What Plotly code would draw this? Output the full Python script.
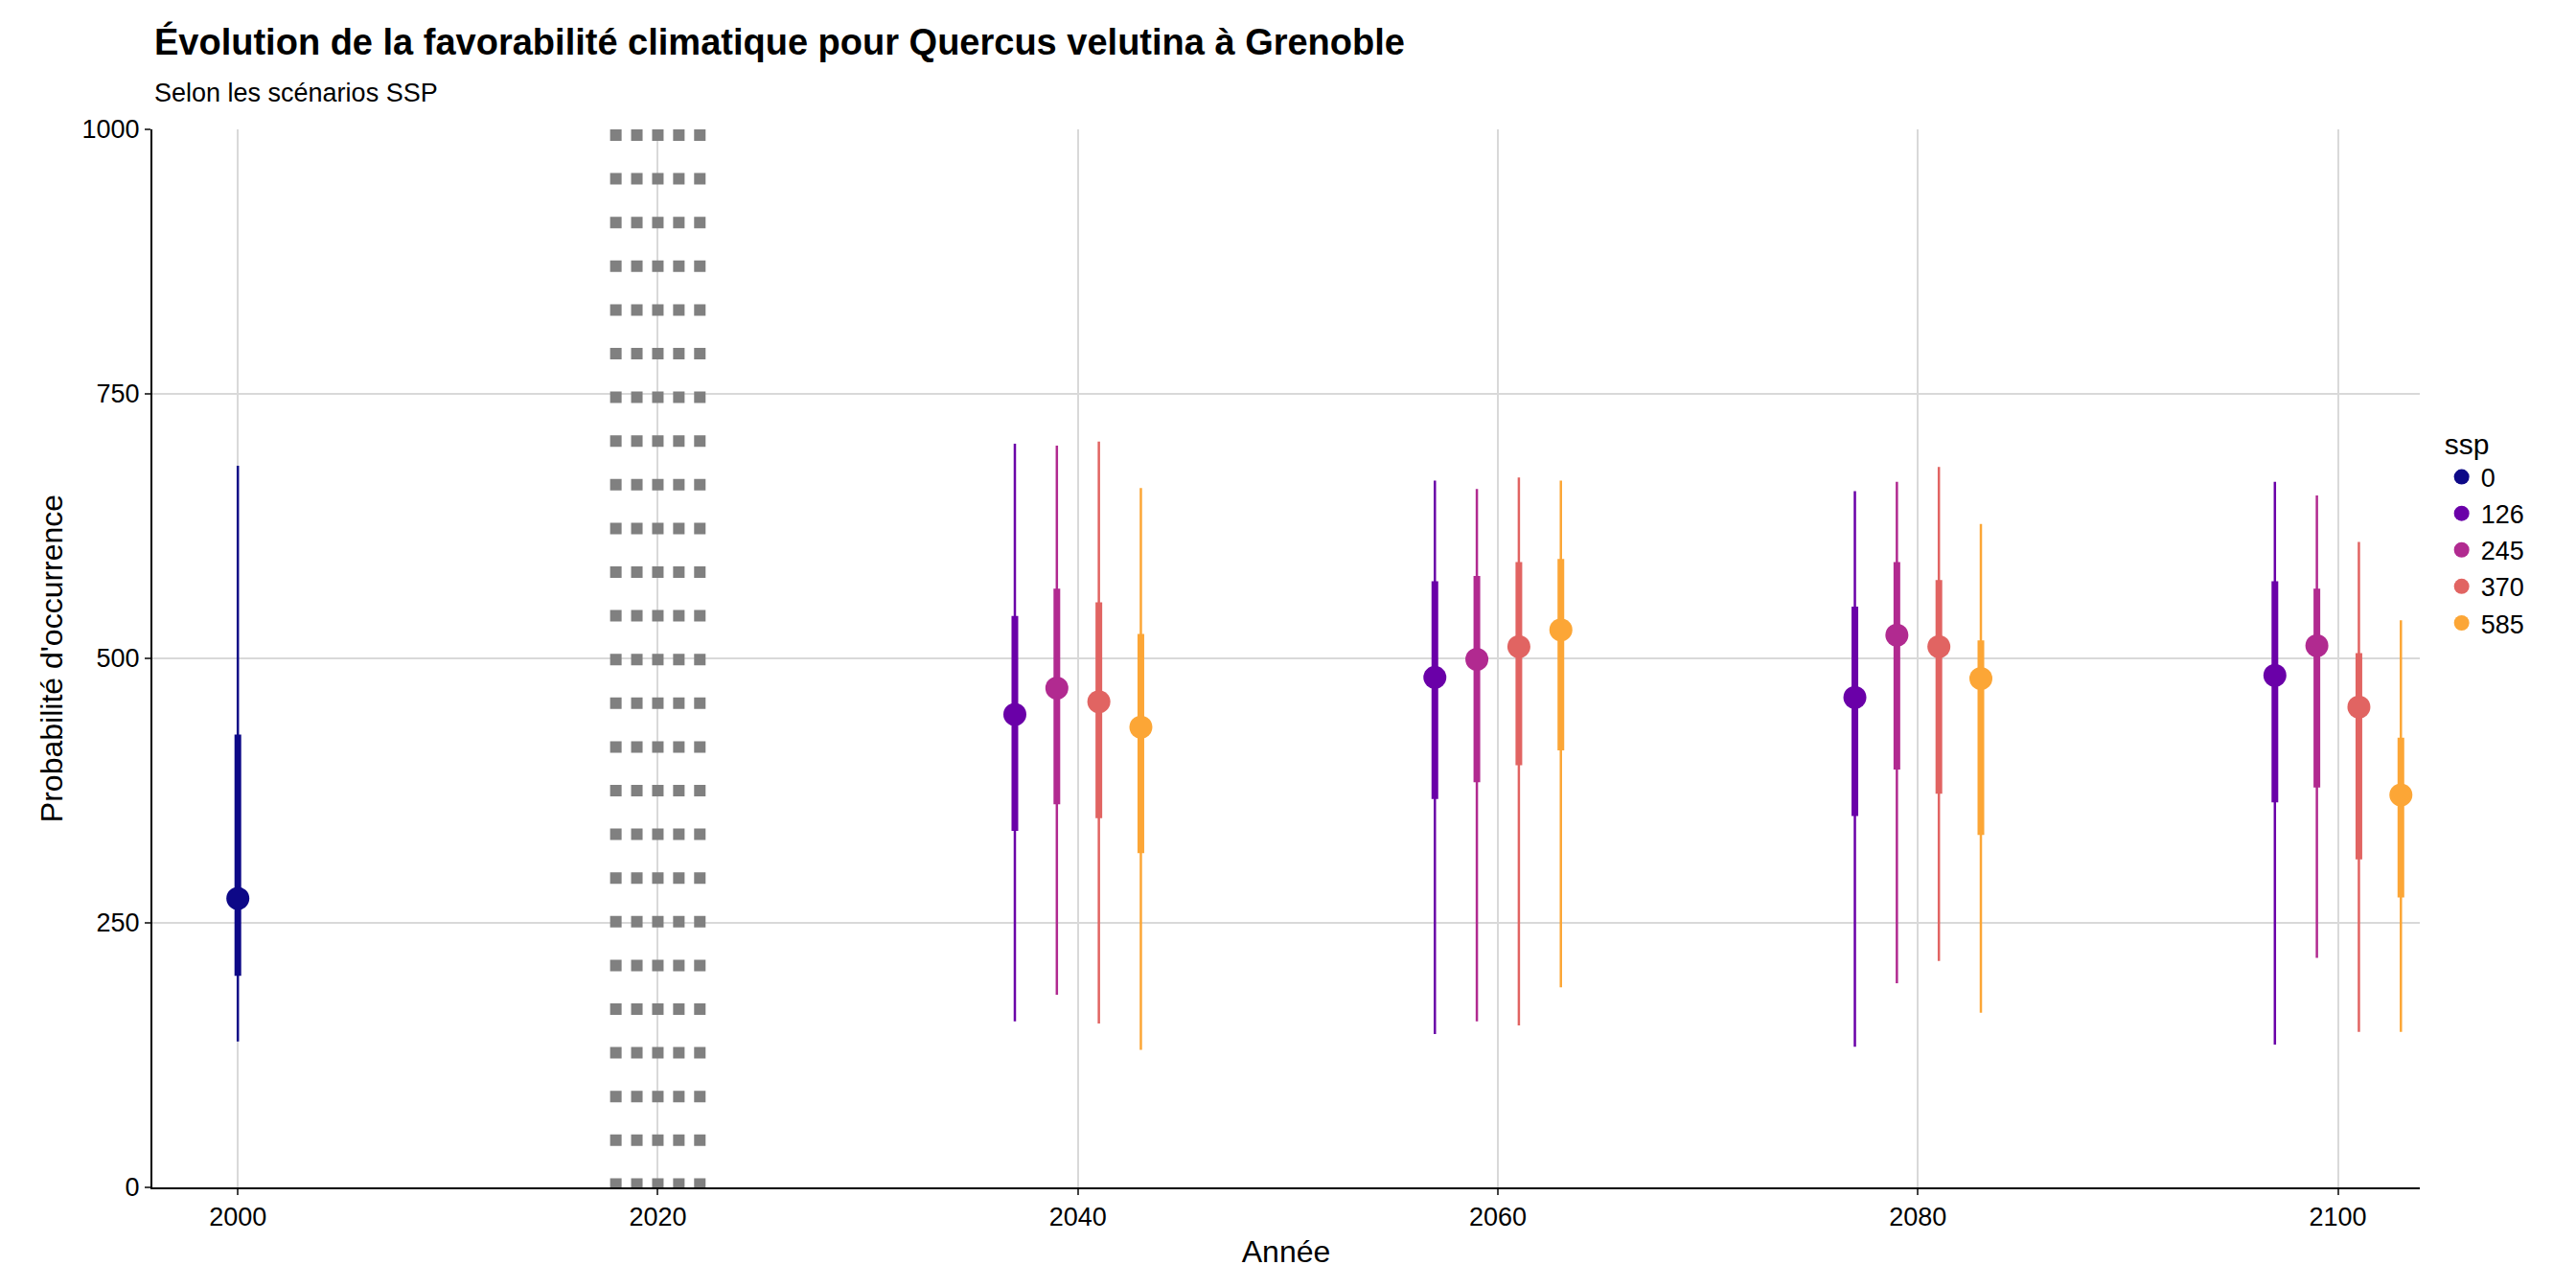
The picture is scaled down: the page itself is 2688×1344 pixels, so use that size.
import plotly.graph_objects as go

ssp = ["0", "126", "245", "370", "585"]
colors = ["#0D0887", "#6A00A8", "#B12A90", "#E16462", "#FCA636"]
xs = {"0": [2000], "126": [2037, 2057, 2077, 2097], "245": [2039, 2059, 2079, 2099],
      "370": [2041, 2061, 2081, 2101], "585": [2043, 2063, 2083, 2103]}
med = {"0": [273], "126": [447, 482, 463, 484], "245": [472, 499, 522, 512],
       "370": [459, 511, 511, 454], "585": [435, 527, 481, 371]}
q_lo = {"0": [200], "126": [337, 367, 351, 364], "245": [362, 383, 395, 378],
        "370": [349, 399, 372, 310], "585": [316, 413, 333, 274]}
q_hi = {"0": [428], "126": [540, 573, 549, 573], "245": [566, 578, 591, 566],
        "370": [553, 591, 574, 505], "585": [523, 594, 517, 425]}
lo = {"0": [138], "126": [157, 145, 133, 135], "245": [182, 157, 193, 217],
      "370": [155, 153, 214, 147], "585": [130, 189, 165, 147]}
hi = {"0": [682], "126": [703, 668, 658, 667], "245": [701, 660, 667, 654],
      "370": [705, 671, 681, 610], "585": [661, 668, 627, 536]}
vlines = [2018, 2019, 2020, 2021, 2022]

fig = go.Figure()
for xv in vlines:
    fig.add_trace(go.Scatter(x=[xv, xv], y=[1000, 0], mode="lines", showlegend=False,
                             line=dict(color="#808080", width=12, dash="12px,33.6px"), hoverinfo="skip"))

def seg(xl, a, b):
    X, Y = [], []
    for x, p, q in zip(xl, a, b):
        X += [x, x, None]; Y += [p, q, None]
    return X, Y

for s, c in zip(ssp, colors):
    X, Y = seg(xs[s], lo[s], hi[s])
    fig.add_trace(go.Scatter(x=X, y=Y, mode="lines", line=dict(color=c, width=2.5), showlegend=False))
    X, Y = seg(xs[s], q_lo[s], q_hi[s])
    fig.add_trace(go.Scatter(x=X, y=Y, mode="lines", line=dict(color=c, width=7), showlegend=False))
    fig.add_trace(go.Scatter(x=xs[s], y=med[s], mode="markers", name=s,
                             marker=dict(color=c, size=24)))

fig.update_layout(
    width=2688, height=1344, plot_bgcolor="white", paper_bgcolor="white",
    font=dict(family="Liberation Sans, Arial, sans-serif", size=27, color="black"),
    margin=dict(l=151, r=171, t=127, b=113),
    annotations=[
        dict(text="<b>Évolution de la favorabilité climatique pour Quercus velutina à Grenoble</b>",
             x=151, y=1344 - 12, xref="paper", yref="paper", showarrow=False, font=dict(size=38),
             xanchor="left", yanchor="top"),
        dict(text="Selon les scénarios SSP", x=151, y=1344 - 72, xref="paper", yref="paper",
             showarrow=False, font=dict(size=27), xanchor="left", yanchor="top"),
    ],
    legend=dict(title=dict(text="ssp", font=dict(size=30)), x=1.01, y=0.62, yanchor="middle",
                font=dict(size=27), tracegroupgap=0, itemsizing="trace"),
    xaxis=dict(range=[1995.93, 2103.9], tickvals=[2000, 2020, 2040, 2060, 2080, 2100],
               showgrid=True, gridcolor="#d9d9d9", gridwidth=2, zeroline=False,
               showline=True, linecolor="black", linewidth=2, ticks="outside", ticklen=6,
               tickwidth=2, title=dict(text="Année", font=dict(size=32), standoff=10)),
    yaxis=dict(range=[0, 1000], tickvals=[0, 250, 500, 750, 1000],
               showgrid=True, gridcolor="#d9d9d9", gridwidth=2, zeroline=False,
               showline=True, linecolor="black", linewidth=2, ticks="outside", ticklen=6,
               tickwidth=2, title=dict(text="Probabilité d'occurrence", font=dict(size=32), standoff=10)),
)
# convert pixel positions of title annotations to paper coords
pw, ph = 2688 - 151 - 171, 1344 - 127 - 113
for a in fig.layout.annotations:
    a.x = (a.x - 151) / pw
    a.y = (a.y - 113) / ph
fig.write_html("out.html")
